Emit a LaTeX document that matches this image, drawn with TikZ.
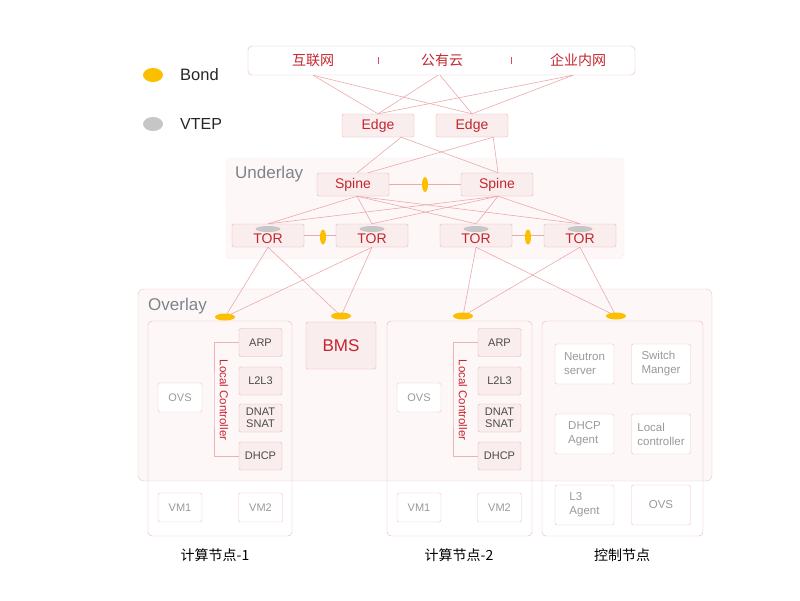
\documentclass[tikz,border=0pt]{standalone}
\usepackage{fontspec}
\setmainfont{Liberation Sans}
\newfontfamily\cjk{Noto Sans CJK SC}
\usetikzlibrary{calc,shapes.geometric}
\definecolor{redtxt}{HTML}{C4262E}
\definecolor{pinkline}{HTML}{EBAAAA}
\definecolor{pinkborder}{HTML}{E8B4B4}
\definecolor{pinkfill}{HTML}{FAEDED}
\definecolor{bgfill}{HTML}{FEF7F8}
\definecolor{bondc}{HTML}{FBBF00}
\definecolor{vtepc}{HTML}{C6C6C6}
\definecolor{graytxt}{HTML}{9A9A9A}
\definecolor{darktxt}{HTML}{4A4A4A}
\definecolor{labtxt}{HTML}{7E848A}
\tikzset{
  conn/.style={draw=pinkline, line width=0.6pt},
  netbox/.style={draw=pinkborder, fill=pinkfill, rounded corners=2pt, minimum width=72pt, minimum height=23pt, inner sep=0pt, text=redtxt, font=\fontsize{14}{14}\selectfont},
  funcbox/.style={draw=pinkborder, fill=pinkfill, rounded corners=1.5pt, minimum width=43pt, minimum height=28pt, inner sep=0pt, text=darktxt, font=\fontsize{11}{12}\selectfont, align=center},
  plainbox/.style={draw=pinkborder!80, fill=white, rounded corners=1.5pt, minimum width=44pt, minimum height=29pt, inner sep=0pt, text=graytxt, font=\fontsize{11}{12}\selectfont},
  ctlbox/.style={draw=pinkborder!80, fill=white, rounded corners=1.5pt, minimum width=59pt, minimum height=40pt, inner sep=0pt, text=graytxt, font=\fontsize{11.5}{14}\selectfont, align=left},
  bondh/.style={ellipse, fill=bondc, minimum width=20pt, minimum height=7pt, inner sep=0pt},
  bondv/.style={ellipse, fill=bondc, minimum width=6pt, minimum height=15pt, inner sep=0pt},
  vtep/.style={ellipse, fill=vtepc, minimum width=25pt, minimum height=6pt, inner sep=0pt},
  hostbox/.style={draw=pinkborder, rounded corners=4pt},
}
\newcommand{\torlab}{\raisebox{-7.5pt}[0pt][0pt]{TOR}}
\begin{document}
\begin{tikzpicture}[x=1pt,y=-1pt]
\useasboundingbox (0,0) rectangle (800,600);
% background zones
\draw[draw=pinkborder!80, fill=bgfill, rounded corners=6pt] (138,289) rectangle (712,481);
\draw[draw=pinkborder, fill=bgfill, dotted, rounded corners=4pt] (226,158) rectangle (624,259);
\node[anchor=west, text=labtxt, font=\fontsize{17}{17}\selectfont, inner sep=0pt] (underlaylab) at (235,174) {Underlay};
\node[anchor=west, text=labtxt, font=\fontsize{17}{17}\selectfont, inner sep=0pt] (overlaylab) at (148,306) {Overlay};

% legend
\node[ellipse, fill=bondc, minimum width=20pt, minimum height=14pt, inner sep=0pt] (legbond) at (153,75) {};
\node[ellipse, fill=vtepc, minimum width=20pt, minimum height=14pt, inner sep=0pt] (legvtep) at (153,124) {};
\node[anchor=west, inner sep=0pt, font=\fontsize{16.5}{16.5}\selectfont, text=black!85] (legbondt) at (180,75) {Bond};
\node[anchor=west, inner sep=0pt, font=\fontsize{16}{16}\selectfont, text=black!85] (legvtept) at (180,124) {VTEP};

% top box
\node[draw=pinkborder, fill=white, rounded corners=4pt, minimum width=387pt, minimum height=29pt, inner sep=0pt] (top) at (441.5,60.5) {};
\node[text=redtxt, font=\cjk\fontsize{14}{14}\selectfont, inner sep=0pt] (net1) at (313,60) {互联网};
\node[text=redtxt, font=\cjk\fontsize{14}{14}\selectfont, inner sep=0pt] (net2) at (442,60) {公有云};
\node[text=redtxt, font=\cjk\fontsize{14}{14}\selectfont, inner sep=0pt] (net3) at (578,60) {企业内网};
\draw[redtxt!80, line width=1pt] (378,57) -- (378,64);
\draw[redtxt!80, line width=1pt] (511,57) -- (511,64);

% edges
\node[netbox] (edge1) at (378,125.5) {Edge};
\node[netbox] (edge2) at (472,125.5) {Edge};
\draw[conn] (net1 |- top.south) -- (edge1.north);
\draw[conn] (net1 |- top.south) -- (edge2.north);
\draw[conn] ([xshift=-4pt]net2 |- top.south) -- (edge1.north);
\draw[conn] ([xshift=-2pt]net2 |- top.south) -- (edge2.north);
\draw[conn] ([xshift=-5pt]net3 |- top.south) -- (edge1.north);
\draw[conn] ([xshift=-5pt]net3 |- top.south) -- (edge2.north);

% spines
\node[netbox] (spine1) at (353,184.5) {Spine};
\node[netbox] (spine2) at (497,184.5) {Spine};
\draw[conn] ([xshift=-13pt]edge1.south east) -- ([xshift=4pt]spine1.north);
\draw[conn] ([xshift=-13pt]edge1.south east) -- ([xshift=1pt]spine2.north);
\draw[conn] ([xshift=-15pt]edge2.south east) -- ([xshift=15pt]spine1.north);
\draw[conn] ([xshift=-15pt]edge2.south east) -- ([xshift=1pt]spine2.north);
\draw[conn] (spine1.east) -- (spine2.west);
\node[bondv] (bsp) at (425,184.5) {};

% TORs
\node[netbox] (tor1) at (268,235.5) {\torlab};
\node[netbox] (tor2) at (372,235.5) {\torlab};
\node[netbox] (tor3) at (476,235.5) {\torlab};
\node[netbox] (tor4) at (580,235.5) {\torlab};
\foreach \t in {tor1,tor2,tor3,tor4}{
  \draw[conn] ([xshift=4pt]spine1.south) -- (\t.north);
  \draw[conn] ([xshift=1pt]spine2.south) -- (\t.north);
}
\draw[conn] (tor1.east) -- (tor2.west);
\draw[conn] (tor3.east) -- (tor4.west);
\node[bondv] (bt12) at (323,237) {};
\node[bondv] (bt34) at (528,237) {};
\node[vtep] (v1) at (268,229) {};
\node[vtep] (v2) at (372,229) {};
\node[vtep] (v3) at (476,229) {};
\node[vtep] (v4) at (580,229) {};

% host boxes
\draw[hostbox] (148,321) rectangle (292,536);
\draw[hostbox] (387,321) rectangle (532,536);
\draw[hostbox] (542,321) rectangle (703,536);
\node[draw=pinkborder, fill=pinkfill, rounded corners=2pt, minimum width=70pt, minimum height=47pt, inner sep=0pt, text=redtxt, font=\fontsize{17}{17}\selectfont] (bms) at (341,345.5) {BMS};

% bonds to overlay
\coordinate (b1c) at (225,317);
\coordinate (bbc) at (341,316);
\coordinate (b2c) at (463,316);
\coordinate (b3c) at (616,316);
\draw[conn] (tor1.south) -- (b1c);
\draw[conn] (tor1.south) -- (bbc);
\draw[conn] (tor2.south) -- (b1c);
\draw[conn] (tor2.south) -- (bbc);
\draw[conn] (tor3.south) -- (b2c);
\draw[conn] (tor3.south) -- (b3c);
\draw[conn] (tor4.south) -- (b2c);
\draw[conn] (tor4.south) -- (b3c);
\node[bondh] (b1) at (b1c) {};
\node[bondh] (bb) at (bbc) {};
\node[bondh] (b2) at (b2c) {};
\node[bondh] (b3) at (b3c) {};

% compute nodes
\foreach \s/\n in {0/1,239/2}{
  \begin{scope}[xshift=\s pt]
    \node[plainbox] (ovs\n) at (180,397.5) {OVS};
    \node[plainbox] (vma\n) at (180,507.5) {VM1};
    \node[plainbox] (vmb\n) at (260.5,507.5) {VM2};
    \node[funcbox] (arp\n) at (260.5,342.5) {ARP};
    \node[funcbox] (l2l\n) at (260.5,381) {L2L3};
    \node[funcbox] (nat\n) at (260.5,418) {DNAT\\SNAT};
    \node[funcbox] (dhc\n) at (260.5,456) {DHCP};
    \coordinate (lc\n) at (214,400);
    \draw[draw=pinkborder, line width=0.6pt] (arp\n.west) -| (lc\n) |- (dhc\n.west);
    \node[rotate=-90, text=redtxt, font=\fontsize{11.5}{12}\selectfont, inner sep=0pt] (lct\n) at (224,400) {Local Controller};
  \end{scope}
}

% control node
\node[ctlbox] (neutron) at (584.5,364) {Neutron\\server};
\node[ctlbox] (switch) at (661,364) {Switch\\Manger};
\node[ctlbox] (dhcpa) at (584.5,434) {DHCP\\Agent};
\node[ctlbox] (localc) at (661,434) {Local\\controller};
\node[ctlbox] (l3a) at (584.5,505) {L3\\Agent};
\node[ctlbox] (ovs3) at (661,505) {OVS};

% bottom labels
\node[font=\cjk\fontsize{14}{14}\selectfont, inner sep=0pt] (lab1) at (215,555) {计算节点-1};
\node[font=\cjk\fontsize{14}{14}\selectfont, inner sep=0pt] (lab2) at (459,555) {计算节点-2};
\node[font=\cjk\fontsize{14}{14}\selectfont, inner sep=0pt] (lab3) at (622,555) {控制节点};
\end{tikzpicture}
\end{document}
